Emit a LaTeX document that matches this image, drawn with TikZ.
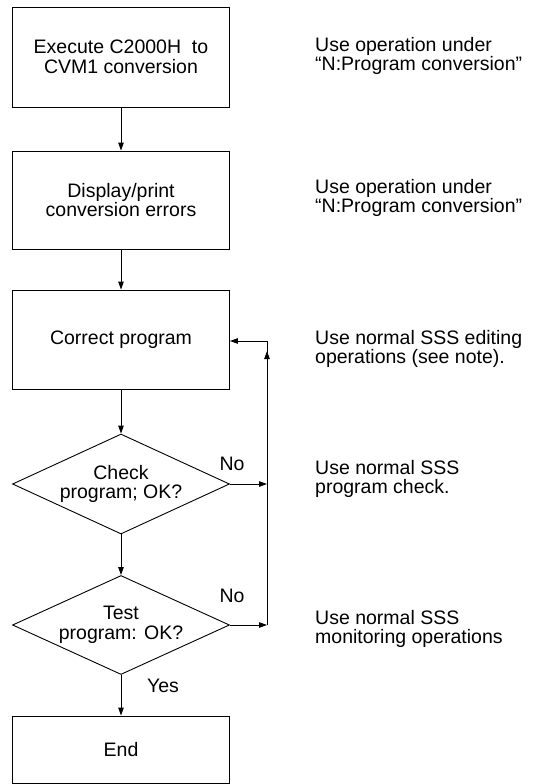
\documentclass[tikz,border=0pt]{standalone}
\usepackage{fontspec}
\setmainfont{Liberation Sans}
\usetikzlibrary{shapes.geometric,arrows.meta,calc}
\begin{document}
\begin{tikzpicture}[x=1pt,y=-1pt,
  every node/.style={font=\fontsize{19.5}{19.5}\selectfont},
  box/.style={draw,line width=0.9pt,minimum width=217pt,inner sep=0pt,align=center},
  dia/.style={draw,diamond,line width=0.9pt,aspect=2.17,minimum width=217pt,minimum height=100pt,inner sep=0pt,align=center},
  note/.style={anchor=west,align=left,inner sep=0pt},
  lbl/.style={inner sep=0pt},
  arr/.style={line width=0.9pt,-{Triangle[length=8pt,width=5.5pt]}},
  ln/.style={line width=0.9pt}]
\useasboundingbox (0,0) rectangle (547,784);
\node[box,minimum height=100pt] (b1) at (121,57) {Execute C2000H\ \ to\\CVM1 conversion};
\node[box,minimum height=98pt] (b2) at (121,200) {Display/print\\conversion errors};
\node[box,minimum height=99pt] (b3) at (121,339.5) {Correct program};
\node[dia] (d1) at (121,484) {Check\\program; OK?};
\node[dia,minimum height=99pt] (d2) at (121,625) {Test\\program: OK?};
\node[box,minimum height=67pt] (b4) at (121,749.5) {End};

\draw[arr] (b1) -- (b2);
\draw[arr] (b2) -- (b3);
\draw[arr] (b3) -- (d1);
\draw[arr] (d1) -- (d2);
\draw[arr] (d2) -- (b4);

\coordinate (f1) at (267,484);
\coordinate (f2) at (267,625);
\coordinate (ft) at (267,341);
\draw[arr] (d1.east) -- (f1);
\draw[arr] (d2.east) -- (f2);
\draw[ln] (f2) -- (ft);
\draw[arr] (f2) -- ($(ft)+(0,10)$);
\draw[arr] (ft) -- (b3.east |- ft);

\node[lbl] (n1) at (232,464) {No};
\node[lbl] (n2) at (232,596) {No};
\node[lbl] (y1) at (163,686) {Yes};

\node[note] (r1) at (315,56) {Use operation under\\“N:Program conversion”};
\node[note] (r2) at (315,198) {Use operation under\\“N:Program conversion”};
\node[note] (r3) at (315,349) {Use normal SSS editing\\operations (see note).};
\node[note] (r4) at (315,479) {Use normal SSS\\program check.};
\node[note] (r5) at (315,629) {Use normal SSS\\monitoring operations};
\end{tikzpicture}
\end{document}
